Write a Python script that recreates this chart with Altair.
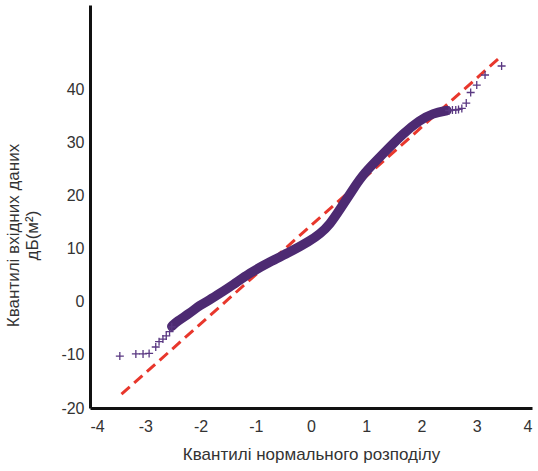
import altair as alt
import pandas as pd

# Dense central band of the Q-Q plot
band_x = [-2.52, -2.43, -2.19, -2.01, -1.83, -1.65, -1.41, -1.12, -0.74, -0.38, -0.02,
          0.16, 0.34, 0.52, 0.77, 0.95, 1.31, 1.67, 1.97, 2.21, 2.46]
band_y = [-4.6, -3.7, -2.1, -0.6, 0.4, 1.6, 3.2, 5.4, 7.6, 9.4, 11.5,
          12.8, 14.6, 17.4, 21.4, 24.2, 28.0, 31.8, 34.3, 35.6, 36.1]

# Sparse tail points (plus markers)
tail_x = [-3.46, -3.17, -3.04, -2.93, -2.81, -2.75, -2.68, -2.62, -2.56, -2.52,
          2.50, 2.56, 2.62, 2.67, 2.73, 2.81, 2.89, 3.00, 3.15, 3.45]
tail_y = [-10.2, -9.8, -9.8, -9.7, -8.5, -7.5, -7.0, -6.4, -5.6, -4.7,
          36.1, 36.2, 36.2, 36.3, 36.5, 37.5, 39.5, 40.9, 42.8, 44.5]

# Reference (dashed) line end points
ref_x = [-3.43, 3.44]
ref_y = [-17.4, 46.3]

x_ticks = [-4, -3, -2, -1, 0, 1, 2, 3, 4]
y_ticks = [-20, -10, 0, 10, 20, 30, 40]

band = pd.DataFrame({"x": band_x, "y": band_y, "o": list(range(len(band_x)))})
tails = pd.DataFrame({"x": tail_x, "y": tail_y})
ref = pd.DataFrame({"x": ref_x, "y": ref_y})

purple = "#4d2a72"
xs = alt.Scale(domain=[-4, 4], nice=False, zero=False)
ys = alt.Scale(domain=[-20, 56], nice=False, zero=False)

xax = alt.Axis(values=x_ticks, title="Квантилі нормального розподілу", labelPadding=10,
               titlePadding=12, labelExpr="'' + datum.value")
yax = alt.Axis(values=y_ticks, title=["Квантилі вхідних даних", "дБ(м²)"], labelPadding=6,
               titleY=230, titleX=-68, labelExpr="'' + datum.value")

line = alt.Chart(ref).mark_line(color="#e8372c", strokeWidth=3, strokeDash=[11, 6]).encode(
    x=alt.X("x:Q", scale=xs, axis=xax),
    y=alt.Y("y:Q", scale=ys, axis=yax),
)

bandl = alt.Chart(band).mark_line(color=purple, strokeWidth=9.5, strokeCap="round",
                                   strokeJoin="round", interpolate="basis").encode(
    x=alt.X("x:Q", scale=xs), y=alt.Y("y:Q", scale=ys), order="o:O"
)

pts = alt.Chart(tails).mark_point(shape="M-1,0L1,0M0,-1L0,1", size=64, filled=False,
                                  color="#5a3882", strokeWidth=1.3, opacity=1).encode(
    x=alt.X("x:Q", scale=xs), y=alt.Y("y:Q", scale=ys)
)

chart = alt.layer(line, bandl, pts).properties(
    width=442, height=403,
    autosize=alt.AutoSizeParams(type="none"),
    padding={"left": 90, "top": 5, "right": 6, "bottom": 63},
).configure_view(stroke=None).configure_axis(
    grid=False, ticks=False, domainColor="#111", domainWidth=3,
    labelFont="Liberation Sans", labelFontSize=16, labelColor="#333",
    titleFont="Liberation Sans", titleFontSize=17, titleFontWeight="normal", titleColor="#333",
)

chart.save("out.html", embed_options={"renderer": "svg", "actions": False})
